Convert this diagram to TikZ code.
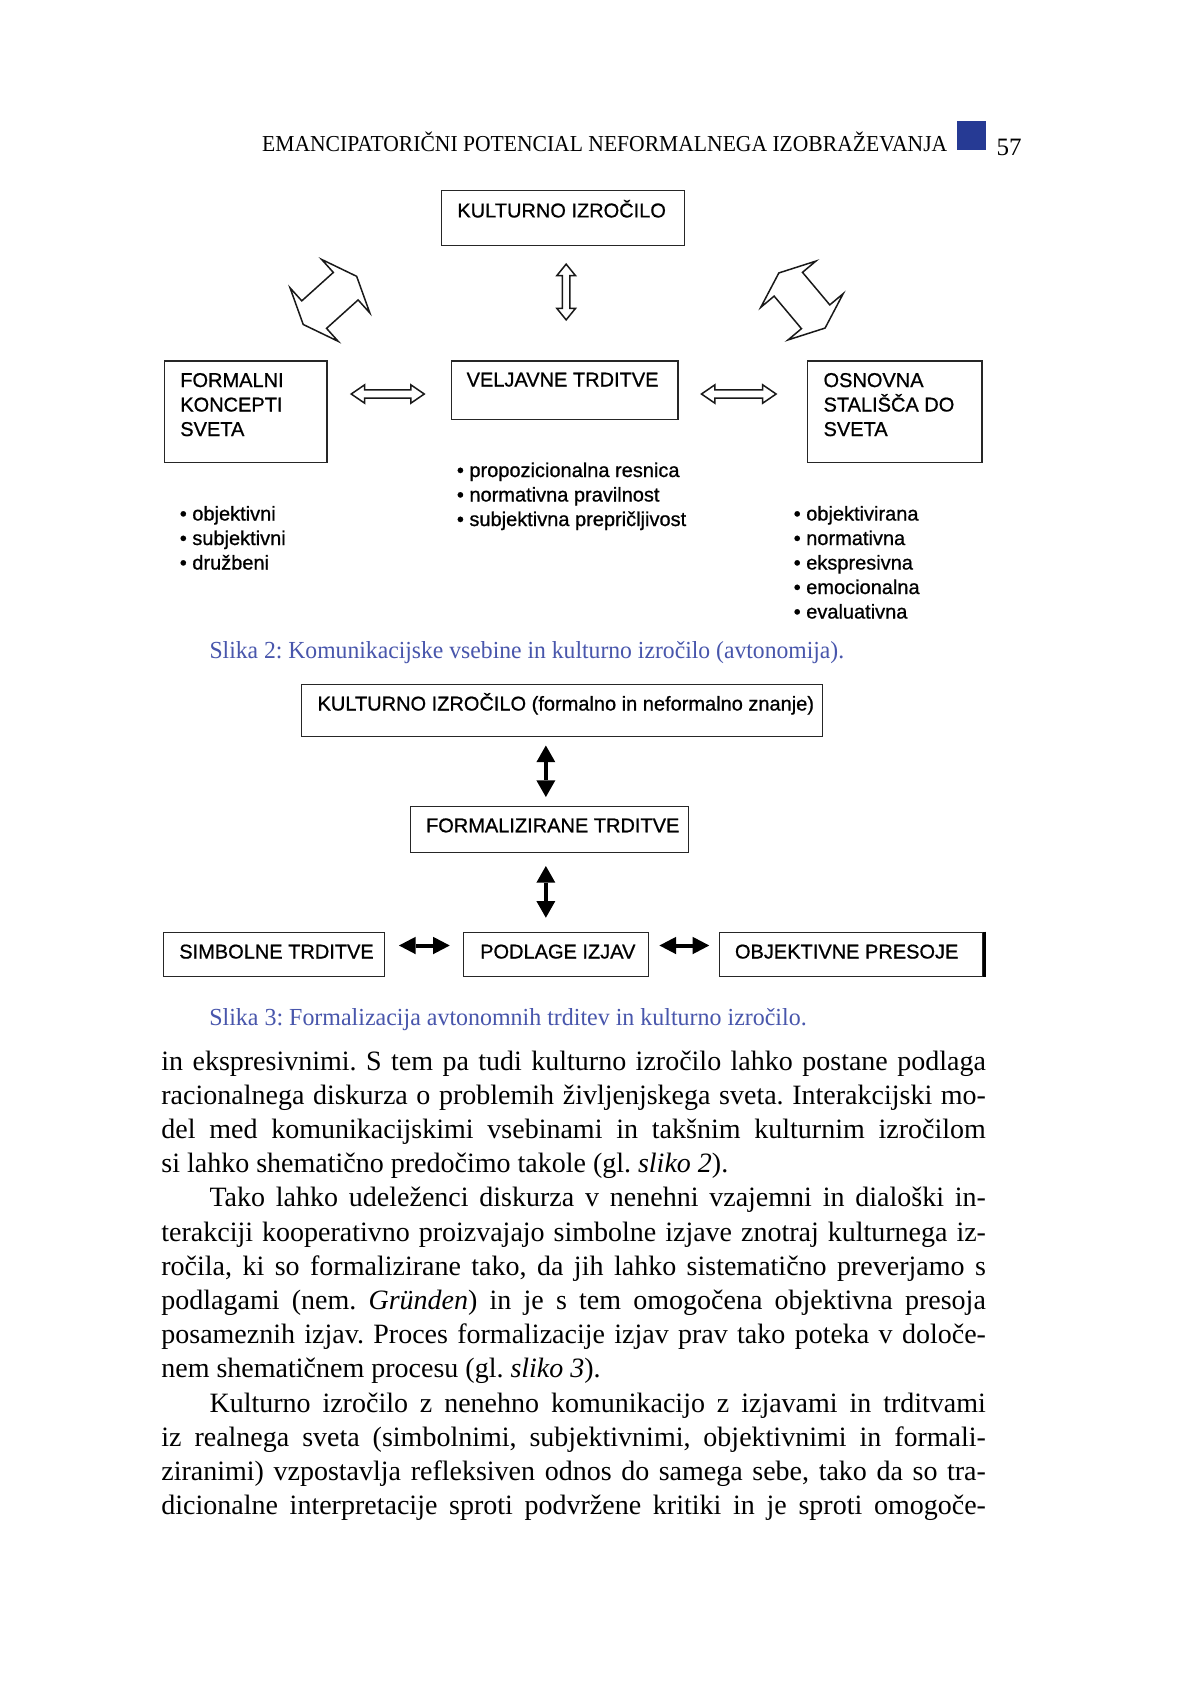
\documentclass[tikz,border=0pt]{standalone}
\usepackage{fontspec}
\usepackage{graphicx}
\setmainfont{Liberation Serif}
\newfontfamily\diafont[FakeBold=0.8]{Liberation Sans}
\usetikzlibrary{arrows.meta,calc}
\definecolor{capblue}{RGB}{72,86,172}
\definecolor{sqblue}{RGB}{38,58,148}
\frenchspacing
\newsavebox\jbox
\newcommand\jline[2]{\sbox\jbox{#2}\ifdim\wd\jbox>#1\relax\resizebox{#1}{\height}{\usebox\jbox}\else\makebox[#1][s]{#2}\fi}
\newcommand\fitline[2]{\resizebox{#1}{\height}{#2}}
% center, angle, half length, head length, shaft half width, head half width, style
\newcommand\hollowarrow[7]{%
  \begin{scope}[shift={#1},rotate=#2]
    \draw[#7] (#3,0) -- (#3-#4,#6) -- (#3-#4,#5) -- (-#3+#4,#5) -- (-#3+#4,#6)
      -- (-#3,0) -- (-#3+#4,-#6) -- (-#3+#4,-#5) -- (#3-#4,-#5) -- (#3-#4,-#6) -- cycle;
  \end{scope}}
\begin{document}
\begin{tikzpicture}[x=0.995pt,y=-1pt,
  box/.style={draw=black!85, line width=1.3pt, inner sep=0pt, anchor=north west},
  lbl/.style={font=\diafont\fontsize{20}{24}\selectfont, inner sep=0pt, anchor=base west},
  body/.style={font=\fontsize{28}{34.4}\selectfont, inner sep=0pt, anchor=base west},
  captxt/.style={font=\fontsize{24.5}{24.5}\selectfont, text=capblue, inner sep=0pt, anchor=base west},
  hol/.style={draw=black!90, line width=1.5pt, line join=miter},
  boldarr/.style={line width=4pt, {Triangle[length=16.7pt,width=19pt,line width=0pt]}-{Triangle[length=16.7pt,width=19pt,line width=0pt]}},
  boldarrh/.style={line width=4pt, {Triangle[length=16.7pt,width=17.5pt,line width=0pt]}-{Triangle[length=16.7pt,width=17.5pt,line width=0pt]}}
]
\path[fill=white] (0,0) rectangle (1193,1684);
\useasboundingbox (0,0) rectangle (1193,1684);

% ---------- header ----------
\node[inner sep=0pt, anchor=base west, font=\fontsize{22.8}{22.8}\selectfont] (hd) at (263.3,151)
  {\fitline{685.1pt}{EMANCIPATORIČNI POTENCIAL NEFORMALNEGA IZOBRAŽEVANJA}};
\node[fill=sqblue, minimum width=28.9pt, minimum height=29pt, inner sep=0pt, anchor=north west] (sq) at (961.5,121) {};
\node[inner sep=0pt, anchor=base west, font=\fontsize{25}{25}\selectfont] (pg) at (1001.4,155) {57};

% ---------- figure 1 ----------
\node[box, minimum width=243.1pt, minimum height=54.6pt] (ki) at (443.3,190) {};
\node[lbl] (kit) at (459.5,217.4) {KULTURNO IZROČILO};

\node[box, minimum width=162.2pt, minimum height=101.6pt] (fk) at (165,360.4) {};
\node[lbl] (fk1) at (181,387) {FORMALNI};
\node[lbl] (fk2) at (181,411.5) {KONCEPTI};
\node[lbl] (fk3) at (181,436) {SVETA};

\node[box, minimum width=226.7pt, minimum height=58.6pt] (vt) at (452.8,360.4) {};
\node[lbl] (vtt) at (468.8,386.5) {VELJAVNE TRDITVE};

\node[box, minimum width=174.3pt, minimum height=101.6pt] (os) at (811.2,360.4) {};
\node[lbl] (os1) at (827.5,387) {OSNOVNA};
\node[lbl] (os2) at (827.5,411.5) {STALIŠČA DO};
\node[lbl] (os3) at (827.5,436) {SVETA};

\node[lbl] (m1) at (459,477) {• propozicionalna resnica};
\node[lbl] (m2) at (459,501.5) {• normativna pravilnost};
\node[lbl] (m3) at (459,526) {• subjektivna prepričljivost};

\node[lbl] (l1) at (180.5,520.5) {• objektivni};
\node[lbl] (l2) at (180.5,545) {• subjektivni};
\node[lbl] (l3) at (180.5,569.5) {• družbeni};

\node[lbl] (r1) at (797.5,520.5) {• objektivirana};
\node[lbl] (r2) at (797.5,545) {• normativna};
\node[lbl] (r3) at (797.5,569.5) {• ekspresivna};
\node[lbl] (r4) at (797.5,594) {• emocionalna};
\node[lbl] (r5) at (797.5,618.5) {• evaluativna};

% hollow arrows
\hollowarrow{(569,292)}{90}{28}{11.5}{3.8}{9.3}{hol}
\hollowarrow{(389.7,394)}{0}{36.7}{13.5}{4.2}{9.2}{hol}
\hollowarrow{(742.5,394)}{0}{37.5}{13.5}{4.2}{9.2}{hol}
\hollowarrow{(331.6,300.4)}{42}{36.15}{14.8}{18.5}{36}{hol}
\hollowarrow{(806,300.5)}{-50}{36.15}{14.8}{18.5}{36}{hol}

\node[captxt] (c1) at (210.4,658) {\fitline{634.6pt}{Slika 2: Komunikacijske vsebine in kulturno izročilo (avtonomija).}};

% ---------- figure 2 ----------
\node[box, minimum width=520.5pt, minimum height=52.5pt] (k2) at (302.6,683.5) {};
\node[lbl] (k2t) at (319,710.5) {KULTURNO IZROČILO (formalno in neformalno znanje)};

\node[box, minimum width=278.1pt, minimum height=46.2pt] (fz) at (411.6,805.5) {};
\node[lbl] (fzt) at (428,832.3) {FORMALIZIRANE TRDITVE};

\node[box, minimum width=221.3pt, minimum height=44pt] (sb) at (163.6,931.5) {};
\node[lbl] (sbt) at (180,958.5) {SIMBOLNE TRDITVE};

\node[box, minimum width=185.5pt, minimum height=44pt] (pd) at (465,931.5) {};
\node[lbl] (pdt) at (482.4,958.5) {PODLAGE IZJAV};

\node[box, minimum width=263.7pt, minimum height=44pt] (ob) at (722.2,931.5) {};
\node[lbl] (obt) at (738.5,958.5) {OBJEKTIVNE PRESOJE};
\draw[line width=3pt] ([xshift=0.9pt]ob.north east) -- ([xshift=0.9pt]ob.south east);

\coordinate (a1s) at (548.6,745.5); \coordinate (a1e) at (548.6,797);
\coordinate (a2s) at (548.6,866);   \coordinate (a2e) at (548.6,917.7);
\coordinate (h1s) at (401,945.5);   \coordinate (h1e) at (452,945.5);
\coordinate (h2s) at (662.8,945.5); \coordinate (h2e) at (712.8,945.5);
\draw[boldarr] (a1s) -- (a1e);
\draw[boldarr] (a2s) -- (a2e);
\draw[boldarrh] (h1s) -- (h1e);
\draw[boldarrh] (h2s) -- (h2e);

\node[captxt] (c2) at (210.2,1025) {\fitline{597.3pt}{Slika 3: Formalizacija avtonomnih trditev in kulturno izročilo.}};

% ---------- body text ----------
\node[body] (b1) at (162,1070) {\jline{824.5pt}{in ekspresivnimi. S tem pa tudi kulturno izročilo lahko postane podlaga}};
\node[body] (b2) at (162,1104.2) {\jline{824.5pt}{racionalnega diskurza o problemih življenjskega sveta. Interakcijski mo-}};
\node[body] (b3) at (162,1138.4) {\jline{824.5pt}{del med komunikacijskimi vsebinami in takšnim kulturnim izročilom}};
\node[body] (b4) at (162,1172.6) {si lahko shematično predočimo takole (gl. \textit{sliko 2}).};
\node[body] (b5) at (210.4,1206.8) {\jline{776.3pt}{Tako lahko udeleženci diskurza v nenehni vzajemni in dialoški in-}};
\node[body] (b6) at (162,1241) {\jline{824.5pt}{terakciji kooperativno proizvajajo simbolne izjave znotraj kulturnega iz-}};
\node[body] (b7) at (162,1275.2) {\jline{824.5pt}{ročila, ki so formalizirane tako, da jih lahko sistematično preverjamo s}};
\node[body] (b8) at (162,1309.4) {\jline{824.5pt}{podlagami (nem. \textit{Gründen}) in je s tem omogočena objektivna presoja}};
\node[body] (b9) at (162,1343.6) {\jline{824.5pt}{posameznih izjav. Proces formalizacije izjav prav tako poteka v določe-}};
\node[body] (b10) at (162,1377.8) {nem shematičnem procesu (gl. \textit{sliko 3}).};
\node[body] (b11) at (210.4,1412) {\jline{776.3pt}{Kulturno izročilo z nenehno komunikacijo z izjavami in trditvami}};
\node[body] (b12) at (162,1446.2) {\jline{824.5pt}{iz realnega sveta (simbolnimi, subjektivnimi, objektivnimi in formali-}};
\node[body] (b13) at (162,1480.4) {\jline{824.5pt}{ziranimi) vzpostavlja refleksiven odnos do samega sebe, tako da so tra-}};
\node[body] (b14) at (162,1514.6) {\jline{824.5pt}{dicionalne interpretacije sproti podvržene kritiki in je sproti omogoče-}};
\end{tikzpicture}
\end{document}
